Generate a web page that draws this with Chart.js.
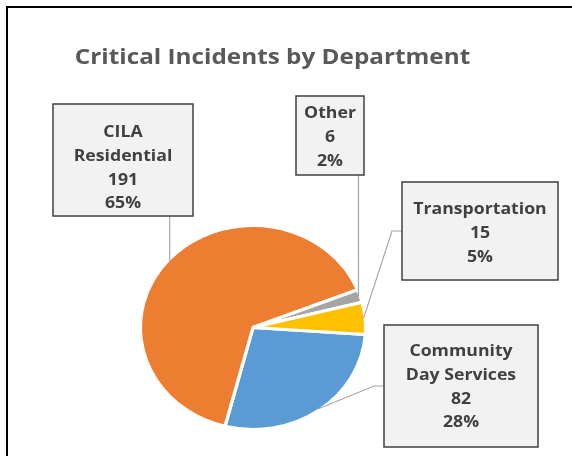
<!DOCTYPE html>
<html>
<head>
<meta charset="utf-8">
<script src="https://cdn.jsdelivr.net/npm/chart.js@4/dist/chart.umd.min.js"></script>
<style>
  html, body { margin: 0; padding: 0; background: #fff; }
  #wrap { position: relative; width: 572px; height: 456px; }
</style>
</head>
<body>
<div id="wrap"><canvas id="chartIncidents"></canvas></div>
<script>
// === CRITICAL INCIDENTS PIE === //

const departments = ['Community Day Services', 'CILA Residential', 'Other', 'Transportation'];
const nameLines = [['Community', 'Day Services'], ['CILA', 'Residential'], ['Other'], ['Transportation']];
const incidents = [82, 191, 6, 15];
const sliceColors = ['#5B9BD5', '#ED7D31', '#A5A5A5', '#FFC000'];

// callout boxes (layout only), leader goes out of the box side or bottom
const callouts = [
  { x: 384, y: 325, w: 154, h: 122, dy: 0, side: 'left' },
  { x: 53,  y: 104, w: 140, h: 112, dy: 7, side: 'bottom' },
  { x: 296, y: 96,  w: 68,  h: 79,  dy: 1, side: 'bottom' },
  { x: 402, y: 182, w: 156, h: 98,  dy: 1, side: 'left' }
];

const STRETCH_X = 1.104;   // everything is drawn a little wider than tall
const LINE_H = 23.8;
const CAP_H = 11.4;

const total = incidents.reduce((s, v) => s + v, 0);
const pct = v => Math.round(v / total * 100) + '%';

// wide text helper
function wideText(ctx, text, x, y) {
  ctx.save();
  ctx.translate(x, y);
  ctx.scale(STRETCH_X, 1);
  ctx.fillText(text, 0, 0);
  ctx.restore();
}

// ---- ellipse stretch around the pie centre ---- //
const stretchPlugin = {
  id: 'stretch',
  beforeDatasetsDraw(chart) {
    const arc = chart.getDatasetMeta(0).data[0];
    const ctx = chart.ctx;
    ctx.save();
    ctx.translate(arc.x, arc.y);
    ctx.scale(STRETCH_X, 1);
    ctx.translate(-arc.x, -arc.y);
  },
  afterDatasetsDraw(chart) {
    chart.ctx.restore();
  }
};

// ---- title, frame, leader lines and callouts ---- //
const calloutPlugin = {
  id: 'callouts',
  afterDraw(chart) {
    const ctx = chart.ctx;
    ctx.save();

    // outer frame (left + top edges)
    ctx.strokeStyle = '#000';
    ctx.lineWidth = 2;
    ctx.beginPath();
    ctx.moveTo(7, 456);
    ctx.lineTo(7, 7);
    ctx.lineTo(572, 7);
    ctx.stroke();

    // title
    ctx.fillStyle = '#595959';
    ctx.font = 'bold 22px "Open Sans"';
    ctx.textAlign = 'center';
    ctx.textBaseline = 'alphabetic';
    wideText(ctx, 'Critical Incidents by Department', 272.5, 63.5);

    const arcs = chart.getDatasetMeta(0).data;
    arcs.forEach((arc, i) => {
      const b = callouts[i];
      const p = arc.getProps(['x', 'y', 'startAngle', 'endAngle', 'outerRadius']);
      const mid = (p.startAngle + p.endAngle) / 2;
      const r = p.outerRadius - 1.5;
      const ax = p.x + r * Math.cos(mid) * STRETCH_X;
      const ay = p.y + r * Math.sin(mid);

      ctx.strokeStyle = '#A6A6A6';
      ctx.lineWidth = 1.2;
      ctx.beginPath();
      ctx.moveTo(ax, ay);
      if (b.side === 'bottom') {
        ctx.lineTo(ax, b.y + b.h);
      } else {
        const my = b.y + b.h / 2;
        ctx.lineTo(b.x - 10, my);
        ctx.lineTo(b.x, my);
      }
      ctx.stroke();

      ctx.fillStyle = '#F2F2F2';
      ctx.fillRect(b.x, b.y, b.w, b.h);
      ctx.strokeStyle = '#404040';
      ctx.lineWidth = 1.5;
      ctx.strokeRect(b.x, b.y, b.w, b.h);

      const lines = [...nameLines[i], String(incidents[i]), pct(incidents[i])];
      const cy = b.y + b.h / 2 + b.dy;
      const first = cy - (lines.length - 1) / 2 * LINE_H + CAP_H / 2;
      ctx.fillStyle = '#404040';
      ctx.font = 'bold 16px "Open Sans"';
      ctx.textAlign = 'center';
      lines.forEach((t, k) => wideText(ctx, t, b.x + b.w / 2, first + k * LINE_H));
    });

    ctx.restore();
  }
};

new Chart(document.getElementById('chartIncidents'), {
  type: 'pie',
  data: {
    labels: departments,
    datasets: [{
      data: incidents,
      backgroundColor: sliceColors,
      borderColor: '#fff',
      borderWidth: 3
    }]
  },
  options: {
    responsive: true,
    maintainAspectRatio: false,
    animation: false,
    rotation: 94,
    radius: 102,
    events: [],
    layout: { padding: { left: 153, right: 219, top: 227, bottom: 28 } },
    plugins: {
      legend: { display: false },
      tooltip: { enabled: false },
      title: { display: false }
    }
  },
  plugins: [stretchPlugin, calloutPlugin]
});
</script>
</body>
</html>
